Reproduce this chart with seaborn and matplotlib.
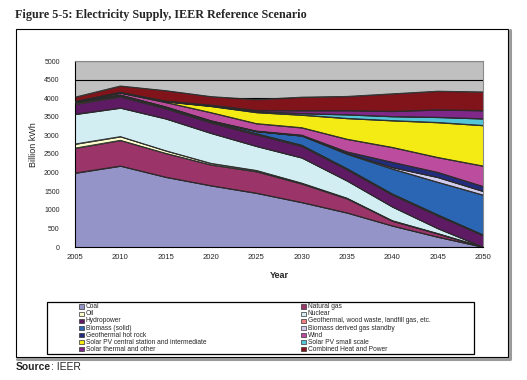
import numpy as np
import pandas as pd
import matplotlib
matplotlib.use("Agg")
import matplotlib.pyplot as plt
import seaborn as sns
from matplotlib.patches import Rectangle
from matplotlib.lines import Line2D

# Données (milliards de kWh)
years = [2005, 2010, 2015, 2020, 2025, 2030, 2035, 2040, 2045, 2050]

coal = [1990, 2180, 1880, 1650, 1450, 1200, 920, 570, 270, 0]
natural_gas = [670, 690, 640, 560, 580, 500, 380, 130, 90, 0]
oil = [110, 100, 70, 40, 30, 20, 15, 10, 5, 0]
nuclear = [800, 770, 860, 810, 650, 680, 465, 370, 135, 0]
hydropower = [270, 300, 270, 280, 310, 310, 300, 320, 340, 310]
geo_wood = [40, 30, 30, 30, 30, 30, 30, 30, 30, 20]
biomass_solid = [10, 15, 15, 20, 60, 250, 390, 670, 875, 1070]
biomass_gas = [0, 0, 0, 0, 0, 5, 20, 40, 130, 100]
geo_hot_rock = [0, 0, 5, 5, 10, 15, 40, 140, 135, 130]
wind = [15, 60, 120, 220, 200, 200, 340, 400, 400, 550]
solar_central = [0, 5, 20, 170, 300, 340, 560, 720, 940, 1090]
solar_small = [0, 0, 5, 10, 25, 40, 100, 110, 140, 180]
solar_thermal = [5, 10, 10, 20, 30, 80, 110, 140, 200, 220]
chp = [120, 170, 280, 230, 290, 360, 380, 470, 500, 500]

labels = ["Coal", "Natural gas", "Oil", "Nuclear", "Hydropower",
          "Geothermal, wood waste, landfill gas, etc.", "Biomass (solid)",
          "Biomass derived gas standby", "Geothermal hot rock", "Wind",
          "Solar PV central station and intermediate", "Solar PV small scale",
          "Solar thermal and other", "Combined Heat and Power"]
colors = ["#9594C9", "#9B3468", "#FFFFCC", "#D2EEF3", "#5E1A63", "#F08080",
          "#2B66B4", "#D0CCEE", "#232C7C", "#BB4C9E", "#F5EB14", "#55C5D8",
          "#80288A", "#80141A"]

df = pd.DataFrame({
    "year": years, labels[0]: coal, labels[1]: natural_gas, labels[2]: oil,
    labels[3]: nuclear, labels[4]: hydropower, labels[5]: geo_wood,
    labels[6]: biomass_solid, labels[7]: biomass_gas, labels[8]: geo_hot_rock,
    labels[9]: wind, labels[10]: solar_central, labels[11]: solar_small,
    labels[12]: solar_thermal, labels[13]: chp,
})

sns.set_style("white")
plt.rcParams["font.family"] = ["Liberation Sans", "DejaVu Sans"]

W, H = 527, 380
fig = plt.figure(figsize=(W / 100, H / 100), dpi=100)


def fx(px):
    return px / W


def fy(py):
    return 1 - py / H


ax = fig.add_axes([fx(75), fy(247), fx(483) - fx(75), fy(61) - fy(247)])
ax.set_facecolor("#C0C0C0")

ax.stackplot(df["year"], *[df[c] for c in labels], colors=colors,
             edgecolor="#2a2a2a", linewidth=0.6, zorder=2)

# bordures des couches via seaborn
cum = df[labels].cumsum(axis=1)
for c in labels:
    sns.lineplot(x=df["year"], y=cum[c], ax=ax, color="#2a2a2a", lw=0.6, zorder=3)

ax.set_xlim(2005, 2050)
ax.set_ylim(0, 5000)
ax.set_xticks(np.arange(2005, 2051, 5))
ax.set_yticks(np.arange(0, 5001, 500))
ax.yaxis.grid(True, color="black", lw=0.8, zorder=1)
ax.xaxis.grid(False)
ax.set_axisbelow(True)
ax.set_xlabel("")
ax.set_ylabel("")
for s in ["left", "bottom"]:
    ax.spines[s].set_color("black")
    ax.spines[s].set_linewidth(0.8)
for s in ["top", "right"]:
    ax.spines[s].set_color("#8a8a8a")
    ax.spines[s].set_linewidth(0.8)
ax.tick_params(axis="both", direction="out", length=3, width=0.6, color="black",
               labelsize=5, pad=2)
ax.tick_params(axis="y", pad=8)
ax.tick_params(axis="x", labelsize=5.5)

fig.text(fx(33), fy(145), "Billion kWh", rotation=90, ha="center", va="center", fontsize=6.5)
fig.text(fx(279), fy(275), "Year", ha="center", va="center", fontsize=6.5, weight="bold")

# titre
fig.text(fx(15), fy(18), "Figure 5-5: Electricity Supply, IEER Reference Scenario",
         family=["Liberation Serif", "DejaVu Serif"], weight="bold", fontsize=8.7,
         ha="left", va="baseline")

# cadre extérieur + ombre
fig.patches.append(Rectangle((fx(16), fy(357)), fx(508) - fx(16), fy(29) - fy(357),
                             transform=fig.transFigure, fill=False, edgecolor="black", lw=0.8))
fig.lines.append(Line2D([fx(509.5), fx(509.5)], [fy(30), fy(358)], transform=fig.transFigure,
                        color="#9a9a9a", lw=2.2))
fig.lines.append(Line2D([fx(17), fx(510)], [fy(358.5), fy(358.5)], transform=fig.transFigure,
                        color="#9a9a9a", lw=2.2))

# légende
fig.patches.append(Rectangle((fx(47), fy(354)), fx(474) - fx(47), fy(302) - fy(354),
                             transform=fig.transFigure, fill=False, edgecolor="black", lw=0.9))
for i, (lab, col) in enumerate(zip(labels, colors)):
    row, c = divmod(i, 2)
    x0 = 79 if c == 0 else 301
    yc = 306.7 + row * 7.1
    fig.patches.append(Rectangle((fx(x0), fy(yc + 2.2)), fx(4.5), fy(0) - fy(4.5),
                                 transform=fig.transFigure, facecolor=col,
                                 edgecolor="#333333", lw=0.5))
    fig.text(fx(x0 + 6.5), fy(yc), lab, fontsize=4.8, ha="left", va="center")

# source
t = fig.text(fx(16), fy(367), "Source", weight="bold", fontsize=7.5, ha="left", va="center")
fig.canvas.draw()
bb = t.get_window_extent()
fig.text(bb.x1 / W, fy(367), ": IEER", fontsize=7.5, ha="left", va="center")

fig.savefig("out.png", dpi=100)
